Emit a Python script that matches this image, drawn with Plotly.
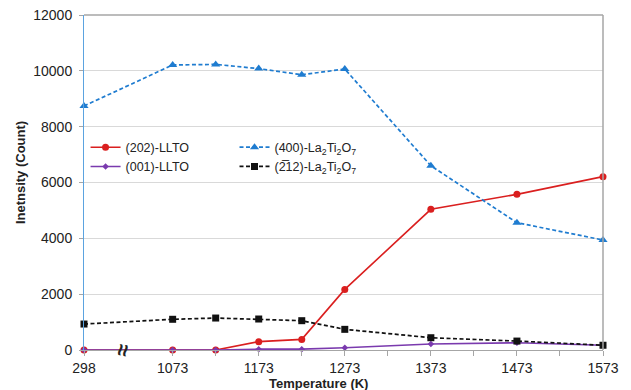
import plotly.graph_objects as go

# Temperatures (K); 298 is drawn just left of the axis break
temps = [298, 1073, 1123, 1173, 1223, 1273, 1373, 1473, 1573]
x_pos = [970, 1073, 1123, 1173, 1223, 1273, 1373, 1473, 1573]  # axis positions (298 shown after break)

llto_202 = [0, 0, 0, 300, 380, 2170, 5040, 5575, 6210]
llto_001 = [0, 0, 0, 30, 30, 80, 215, 260, 170]
lto_400 = [8740, 10210, 10230, 10080, 9860, 10065, 6600, 4560, 3940]
lto_212 = [930, 1100, 1145, 1110, 1050, 740, 440, 320, 170]

tick_vals = [970, 1073, 1173, 1273, 1373, 1473, 1573]
tick_text = ["298", "1073", "1173", "1273", "1373", "1473", "1573"]
minor_vals = [1123, 1223, 1323, 1423, 1523]
y_ticks = [0, 2000, 4000, 6000, 8000, 10000, 12000]
y_text = [str(v) for v in y_ticks]

FONT = "Liberation Sans, Arial, sans-serif"
DASH = "4px,2.5px"

fig = go.Figure()
fig.add_trace(go.Scatter(x=x_pos, y=llto_202, name="(202)-LLTO", mode="lines+markers",
                         line=dict(color="#DA1F1F", width=1.6),
                         marker=dict(symbol="circle", size=7, color="#DA1F1F"),
                         cliponaxis=False, legend="legend", customdata=temps))
fig.add_trace(go.Scatter(x=x_pos, y=llto_001, name="(001)-LLTO", mode="lines+markers",
                         line=dict(color="#7A3AAE", width=1.6),
                         marker=dict(symbol="diamond", size=5, color="#7A3AAE"),
                         cliponaxis=False, legend="legend", customdata=temps))
fig.add_trace(go.Scatter(x=x_pos, y=lto_400, name="(400)-La<sub>2</sub>Ti<sub>2</sub>O<sub>7</sub>",
                         mode="lines+markers",
                         line=dict(color="#1F7CD0", width=1.7, dash=DASH),
                         marker=dict(symbol="triangle-up", size=8, color="#1F7CD0"),
                         cliponaxis=False, legend="legend2", customdata=temps))
fig.add_trace(go.Scatter(x=x_pos, y=lto_212, name="(2\u030512)-La<sub>2</sub>Ti<sub>2</sub>O<sub>7</sub>",
                         mode="lines+markers",
                         line=dict(color="#111111", width=1.7, dash=DASH),
                         marker=dict(symbol="square", size=7, color="#111111"),
                         cliponaxis=False, legend="legend2", customdata=temps))

# page has an 8px body margin, so the figure is drawn 8px smaller and shifted
fig.update_layout(
    width=623, height=382,
    margin=dict(l=76, r=28, t=7, b=40, autoexpand=False),
    paper_bgcolor="white", plot_bgcolor="white",
    font=dict(family=FONT, size=13, color="#222"),
    legend=dict(x=0.003, y=0.649, xanchor="left", yanchor="top", bgcolor="rgba(0,0,0,0)",
                font=dict(size=12.5), itemwidth=30, tracegroupgap=0),
    legend2=dict(x=0.29, y=0.649, xanchor="left", yanchor="top", bgcolor="rgba(0,0,0,0)",
                 font=dict(size=12.5), itemwidth=30, tracegroupgap=0),
    xaxis=dict(range=[970, 1573], tickmode="array", tickvals=tick_vals, ticktext=tick_text,
               showgrid=False, zeroline=False, showline=True, linecolor="#A6A6A6", linewidth=1,
               ticks="outside", ticklen=5, tickcolor="#A6A6A6", automargin=False,
               ticklabeloverflow="allow", ticklabelstandoff=0,
               minor=dict(tickvals=minor_vals, ticks="outside", ticklen=5, tickcolor="#A6A6A6"),
               tickfont=dict(size=14, color="#222")),
    yaxis=dict(range=[0, 12000], tickmode="array", tickvals=y_ticks, ticktext=y_text,
               showgrid=True, gridcolor="#D9D9D9", gridwidth=1, zeroline=False,
               showline=True, linecolor="#5BA3E0", linewidth=1, automargin=False,
               ticklabeloverflow="allow", ticklabelstandoff=4,
               ticks="outside", ticklen=4, tickcolor="#A6A6A6",
               tickfont=dict(size=14, color="#222")),
)

# top and right frame lines
fig.add_shape(type="line", xref="paper", yref="paper", x0=0, x1=1, y0=1, y1=1,
              line=dict(color="#A6A6A6", width=1.5))
fig.add_shape(type="line", xref="paper", yref="paper", x0=1, x1=1, y0=0, y1=1,
              line=dict(color="#A6A6A6", width=1.5))

# axis break symbol
fig.add_annotation(x=1016, y=0, xref="x", yref="y", text="<b>\u2248</b>", textangle=100, showarrow=False,
                   font=dict(size=22, color="#222"), yanchor="middle", xanchor="center")

# y-axis title
fig.add_annotation(x=0, y=0.528, xref="paper", yref="paper", xshift=-64, text="<b>Inetnsity (Count)</b>",
                   textangle=-90, showarrow=False, font=dict(size=13, color="#222"),
                   xanchor="center", yanchor="middle")

# x-axis title
fig.add_annotation(x=0.452, y=0, xref="paper", yref="paper", yshift=-33, text="<b>Temperature (K)</b>",
                   showarrow=False, font=dict(size=13, color="#222"), yanchor="middle")

fig.write_html("out.html")
